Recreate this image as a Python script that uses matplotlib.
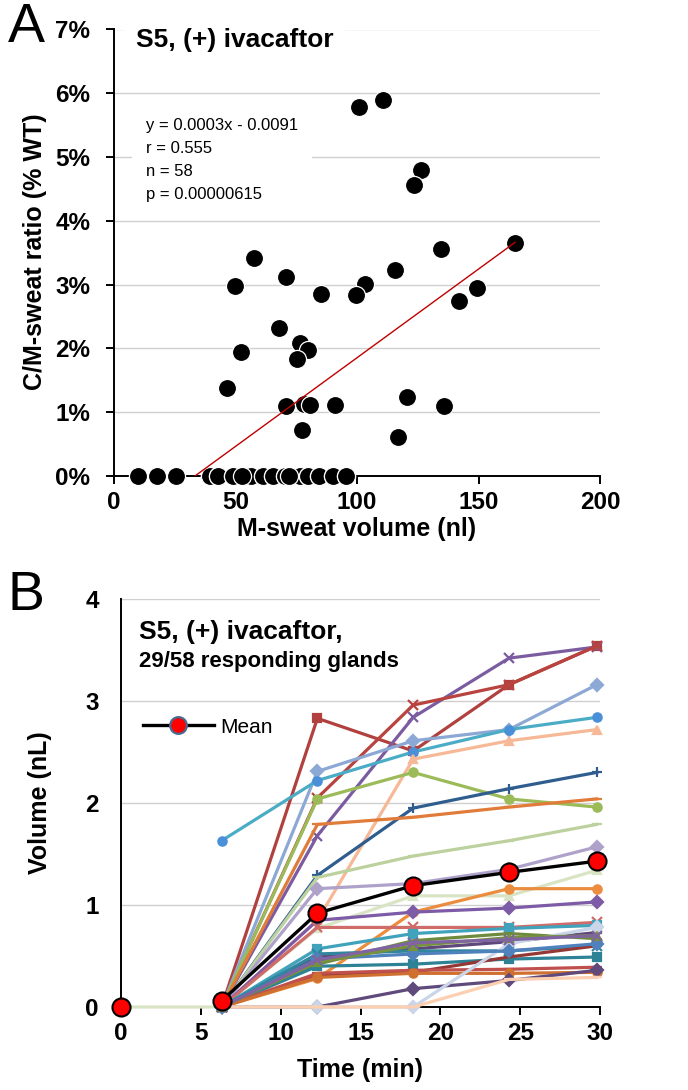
import numpy as np
import matplotlib
matplotlib.use("Agg")
import matplotlib.pyplot as plt
from matplotlib.ticker import PercentFormatter, MultipleLocator
from matplotlib.lines import Line2D

plt.rcParams['font.family'] = ['Liberation Sans', 'DejaVu Sans']

# ---------------- Panel A data ----------------
# non-responding glands (C/M ratio = 0); several sit on top of one another
zero_volume = [9.7, 17.8, 25.4, 39.5, 39.5, 42.9, 42.9, 49.1, 49.1, 56.2,
               56.2, 61.4, 61.4, 65.3, 65.3, 70.5, 70.5, 76.5, 76.5, 80.0,
               80.0, 84.5, 84.5, 90.0, 90.0, 95.5, 95.5, 72.0, 52.5]
# responding glands
resp_volume = [100.8, 110.6, 126.3, 123.5, 165.0, 134.4, 57.7, 115.6, 70.6, 49.9,
               103.3, 99.7, 85.0, 149.3, 141.8, 68.0, 76.5, 79.7, 75.4, 52.4,
               46.5, 70.6, 78.2, 80.5, 90.8, 77.2, 120.7, 135.9, 116.7]
resp_ratio = [0.0579, 0.0589, 0.0479, 0.0456, 0.0366, 0.0356, 0.0341, 0.0323, 0.0312, 0.0298,
              0.0301, 0.0283, 0.0285, 0.0294, 0.0274, 0.0232, 0.0208, 0.0198, 0.0184, 0.0195,
              0.0138, 0.0109, 0.0113, 0.0112, 0.0112, 0.0072, 0.0124, 0.0110, 0.0061]
trend_slope = 0.000278
trend_intercept = -0.00926
stats_lines = ["y = 0.0003x - 0.0091", "r = 0.555", "n = 58", "p = 0.00000615"]

# ---------------- Panel B data ----------------
nan = np.nan
times = [0, 6.3, 12.3, 18.3, 24.3, 29.8]
gland_01 = [nan, 0, 2.83, 2.51, 3.16, 3.54]
gland_02 = [nan, 0, 1.68, 2.84, 3.42, 3.53]
gland_03 = [nan, 0, 2.05, 2.96, 3.16, 3.54]
gland_04 = [nan, 0, 2.31, 2.61, 2.72, 3.16]
gland_05 = [nan, 1.63, 2.22, 2.50, 2.72, 2.84]
gland_06 = [nan, 0, 0.85, 2.43, 2.61, 2.72]
gland_07 = [nan, 0, 2.04, 2.30, 2.04, 1.96]
gland_08 = [nan, 0, 1.29, 1.95, 2.14, 2.30]
gland_09 = [nan, 0, 1.79, 1.86, 1.96, 2.04]
gland_10 = [nan, 0, 1.27, 1.48, 1.63, 1.79]
gland_11 = [nan, 0, 1.16, 1.21, 1.35, 1.57]
gland_12 = [0, 0, 0.77, 1.09, 1.09, 1.34]
gland_13 = [nan, 0, 0.28, 0.93, 1.16, 1.16]
gland_14 = [nan, 0, 0.85, 0.93, 0.97, 1.03]
gland_15 = [nan, 0, 0.78, 0.78, 0.78, 0.83]
gland_16 = [nan, 0, 0.57, 0.72, 0.77, 0.80]
gland_17 = [nan, 0, 0.42, 0.65, 0.72, 0.67]
gland_18 = [nan, 0, 0.49, 0.57, 0.64, 0.73]
gland_19 = [nan, 0, 0.52, 0.55, 0.55, 0.60]
gland_20 = [nan, 0, 0.40, 0.42, 0.47, 0.49]
gland_21 = [nan, 0, 0.31, 0.34, 0.49, 0.60]
gland_22 = [nan, 0, 0.33, 0.36, 0.37, 0.39]
gland_23 = [nan, 0, 0.29, 0.33, 0.33, 0.34]
gland_24 = [nan, 0, 0.0, 0.18, 0.26, 0.36]
gland_25 = [nan, 0, 0.0, 0.0, 0.62, 0.78]
gland_26 = [nan, 0, 0.0, 0.0, 0.27, 0.29]
gland_27 = [nan, 0, 0.47, 0.52, 0.55, 0.62]
gland_28 = [nan, 0, 0.44, 0.60, 0.68, 0.70]
gland_29 = [nan, 0, 0.46, 0.63, 0.66, 0.70]
mean_volume = [0, 0.06, 0.92, 1.19, 1.32, 1.43]

glands = [gland_01, gland_02, gland_03, gland_04, gland_05, gland_06, gland_07,
          gland_08, gland_09, gland_10, gland_11, gland_12, gland_13, gland_14,
          gland_15, gland_16, gland_17, gland_18, gland_19, gland_20, gland_21,
          gland_22, gland_23, gland_24, gland_25, gland_26, gland_27, gland_28,
          gland_29]

# styles (kept separate from data)
gland_colors = ['#B0413E', '#7B5CA0', '#B8433F', '#8CA8D4', '#4BACC6', '#F6B896',
                '#9BBB59', '#2F5D8E', '#E07B39', '#BCD19E', '#AFA2CA', '#D8E4C4',
                '#EB8C3E', '#7D5BA6', '#CF6B68', '#41A2BC', '#6E8B3D', '#5F497A',
                '#31859C', '#2E8296', '#953735', '#C0504D', '#D07030', '#604A7B',
                '#C9D5E8', '#FBCFB0', '#4F81BD', '#76923C', '#8064A2']
gland_markers = ['s', 'x', 'x', 'D', 'o', '^', 'o', '+', '_', '_', 'D', '^',
                 'o', 'D', 'x', 's', '_', '_', 'x', 's', '_', '_', 'o', 'D',
                 'D', '_', 'D', '^', 'x']
gland_mfc = {4: '#4A90D9'}

# ---------------- Figure ----------------
fig = plt.figure(figsize=(6.88, 10.9), dpi=100)
W, H = 688.0, 1090.0

def axes_px(left, right, top, bottom):
    return [left / W, 1 - bottom / H, (right - left) / W, (bottom - top) / H]

grid_color = '#CFCFCF'
tick_fs = 17.5
label_fs = 18

# ---- Panel A ----
axA = fig.add_axes(axes_px(114, 600, 29.5, 476))
axA.set_xlim(0, 200)
axA.set_ylim(0, 0.07)
axA.xaxis.set_major_locator(MultipleLocator(50))
axA.yaxis.set_major_locator(MultipleLocator(0.01))
axA.yaxis.set_major_formatter(PercentFormatter(xmax=1.0, decimals=0))
axA.grid(axis='y', color=grid_color, lw=1.0, zorder=0)
axA.set_axisbelow(True)
for s in ['top', 'right']:
    axA.spines[s].set_visible(False)
for s in ['left', 'bottom']:
    axA.spines[s].set_linewidth(1.4)
axA.tick_params(axis='y', direction='out', length=6, width=1.4, pad=11,
                labelsize=tick_fs)
axA.tick_params(axis='x', direction='out', length=6, width=1.4, pad=5,
                labelsize=tick_fs)
for lab in axA.get_xticklabels() + axA.get_yticklabels():
    lab.set_fontweight('bold')

axA.scatter(zero_volume, np.zeros(len(zero_volume)), s=170, c='black',
            edgecolors='white', linewidths=0.9, zorder=3, clip_on=False)
axA.scatter(resp_volume, resp_ratio, s=170, c='black',
            edgecolors='white', linewidths=0.9, zorder=3, clip_on=False)
all_vol = np.array(zero_volume + resp_volume)
xfit = np.array([all_vol.min(), all_vol.max()])
axA.plot(xfit, trend_slope * xfit + trend_intercept, color='#C00000',
         lw=1.0, zorder=4)

axA.text(0.045, 0.9615, 'S5, (+) ivacaftor', transform=axA.transAxes,
         fontsize=19, fontweight='bold', va='baseline', ha='left', zorder=5,
         bbox=dict(facecolor='white', edgecolor='none', pad=8))
axA.text(0.066, 0.802, '\n'.join(stats_lines), transform=axA.transAxes,
         fontsize=12, va='top', ha='left', linespacing=1.68, zorder=5,
         bbox=dict(facecolor='white', edgecolor='none', pad=10))

fig.text(35 / W, 1 - 252 / H, 'C/M-sweat ratio (% WT)', rotation=90,
         ha='center', va='center', fontsize=label_fs, fontweight='bold')
fig.text(357 / W, 1 - 529 / H, 'M-sweat volume (nl)', ha='center',
         va='center', fontsize=label_fs, fontweight='bold')
fig.text(8 / W, 1 - 42 / H, 'A', fontsize=40, va='baseline', ha='left')

# ---- Panel B ----
axB = fig.add_axes(axes_px(121, 600, 599, 1007))
axB.set_xlim(0, 30)
axB.set_ylim(0, 4)
axB.xaxis.set_major_locator(MultipleLocator(5))
axB.yaxis.set_major_locator(MultipleLocator(1))
axB.grid(axis='y', color=grid_color, lw=1.0, zorder=0)
axB.set_axisbelow(True)
for s in ['top', 'right']:
    axB.spines[s].set_visible(False)
for s in ['left', 'bottom']:
    axB.spines[s].set_linewidth(1.4)
axB.tick_params(axis='y', length=0, pad=16, labelsize=tick_fs)
axB.tick_params(axis='x', direction='out', length=6, width=1.4, pad=5,
                labelsize=tick_fs)
for lab in axB.get_xticklabels() + axB.get_yticklabels():
    lab.set_fontweight('bold')

t = np.array(times, dtype=float)
for i, g in enumerate(glands):
    v = np.array(g, dtype=float)
    m = ~np.isnan(v)
    mk = gland_markers[i]
    col = gland_colors[i]
    ms = 7 if mk in ('x', '+', '_') else 6
    axB.plot(t[m], v[m], color=col, lw=2.3, marker=mk, ms=ms,
             mfc=gland_mfc.get(i, col), mec=gland_mfc.get(i, col), mew=1.6,
             zorder=3, clip_on=False)

# mean: line joins the points from the first stimulated reading onward
mv = np.array(mean_volume, dtype=float)
axB.plot(t[1:], mv[1:], color='black', lw=2.4, zorder=6, clip_on=False)
axB.plot(t, mv, linestyle='none', marker='o', ms=13,
         mfc='#FF0000', mec='black', mew=1.5, zorder=7, clip_on=False)

legend_handle = Line2D([], [], color='black', lw=2.4, marker='o', ms=12,
                       mfc='#FF0000', mec='#4A6890', mew=1.6)
axB.legend([legend_handle], ['Mean'], loc='center left',
           bbox_to_anchor=(0.046, 0.686), frameon=False, fontsize=15,
           handlelength=3.4, handletextpad=0.3, borderpad=0,
           borderaxespad=0)

axB.text(0.038, 0.902, 'S5, (+) ivacaftor,', transform=axB.transAxes,
         fontsize=19, fontweight='bold', va='baseline', ha='left')
axB.text(0.038, 0.833, '29/58 responding glands', transform=axB.transAxes,
         fontsize=16, fontweight='bold', va='baseline', ha='left')

fig.text(40 / W, 1 - 803 / H, 'Volume (nL)', rotation=90,
         ha='center', va='center', fontsize=label_fs, fontweight='bold')
fig.text(360 / W, 1 - 1070 / H, 'Time (min)', ha='center',
         va='center', fontsize=label_fs, fontweight='bold')
fig.text(8 / W, 1 - 610 / H, 'B', fontsize=40, va='baseline', ha='left')

fig.savefig('out.png', dpi=100)
